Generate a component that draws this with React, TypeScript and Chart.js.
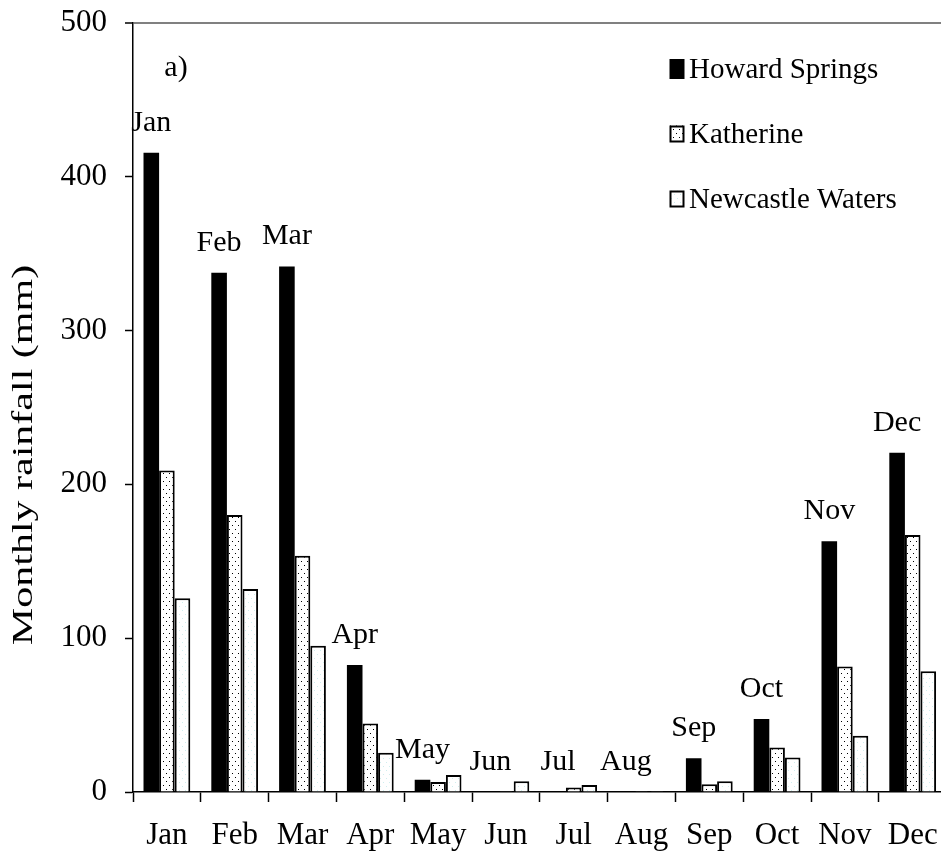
import React, { useEffect, useRef } from "react";
import { Chart, registerables } from "chart.js";

Chart.register(...registerables);

const months = ["Jan", "Feb", "Mar", "Apr", "May", "Jun", "Jul", "Aug", "Sep", "Oct", "Nov", "Dec"];
const howardSprings = [415.5, 337.5, 341.5, 82.5, 8, 0, 0, 0, 22, 47.5, 163, 220.5];
const katherine = [209, 180, 153.5, 44.5, 6.5, 0.5, 3, 0.5, 5, 29, 81.5, 167];
const newcastleWaters = [126, 132, 95, 25.5, 11, 7, 4.5, 0.5, 7, 22.5, 36.5, 78.5];
const seriesNames = ["Howard Springs", "Katherine", "Newcastle Waters"];
const yTicks = [0, 100, 200, 300, 400, 500];
const yTitle = "Monthly rainfall (mm)";
const panelLabel = "a)";

const FONT = "'Liberation Serif', 'Times New Roman', serif";

function makePattern(ctx: CanvasRenderingContext2D, dot: string, w: number, h: number, dots: number[][]) {
  const c = document.createElement("canvas");
  c.width = w;
  c.height = h;
  const p = c.getContext("2d")!;
  p.fillStyle = "#ffffff";
  p.fillRect(0, 0, w, h);
  p.fillStyle = dot;
  dots.forEach(([x, y]) => p.fillRect(x, y, 1, 1));
  return ctx.createPattern(c, "repeat")!;
}

export default function App() {
  const ref = useRef<HTMLCanvasElement | null>(null);

  useEffect(() => {
    const canvas = ref.current!;
    const ctx = canvas.getContext("2d")!;
    const dotted = makePattern(ctx, "#000000", 6, 8, [[1, 1], [4, 5]]);
    const faint = makePattern(ctx, "#cfeeee", 6, 8, [[2, 2], [5, 6]]);

    const decor = {
      id: "decor",
      afterDatasetsDraw(chart: any) {
        const c = chart.ctx;
        const meta = chart.getDatasetMeta(0);
        c.save();
        c.fillStyle = "#000";
        c.font = `30px ${FONT}`;
        c.textAlign = "center";
        c.textBaseline = "middle";
        meta.data.forEach((el: any, i: number) => {
          c.fillText(months[i], el.x, el.y - 30);
        });
        c.restore();
      },
      afterDraw(chart: any) {
        const c = chart.ctx;
        c.save();
        // y-axis title
        c.translate(31.5, 455);
        c.rotate(-Math.PI / 2);
        c.scale(1.4, 1);
        c.font = `30px ${FONT}`;
        c.fillStyle = "#000";
        c.textAlign = "center";
        c.textBaseline = "alphabetic";
        c.fillText(yTitle, 0, 0);
        c.restore();

        c.save();
        c.font = `30px ${FONT}`;
        c.fillStyle = "#000";
        c.textAlign = "center";
        c.textBaseline = "middle";
        c.fillText(panelLabel, 176, 68);

        // legend
        const rows = [70, 135, 200];
        const ds = chart.data.datasets;
        c.font = `29px ${FONT}`;
        c.textAlign = "left";
        rows.forEach((cy, i) => {
          const bx = 669.5;
          const bh = i === 0 ? 20 : 17;
          const by = cy - bh / 2 - 1;
          c.fillStyle = ds[i].backgroundColor;
          c.fillRect(bx, by, 15, bh);
          if (i > 0) {
            c.strokeStyle = "#000";
            c.lineWidth = 2;
            c.strokeRect(bx + 1, by + 1, 13, bh - 2);
          }
          c.fillStyle = "#000";
          c.fillText(ds[i].label, 689, cy);
        });
        c.restore();
      },
    };

    const chart = new Chart(canvas, {
      type: "bar",
      data: {
        labels: months,
        datasets: [
          { label: seriesNames[0], data: howardSprings, backgroundColor: "#000000", borderColor: "#000000", borderWidth: 0 },
          { label: seriesNames[1], data: katherine, backgroundColor: dotted as any, borderColor: "#000000", borderWidth: 2 },
          { label: seriesNames[2], data: newcastleWaters, backgroundColor: faint as any, borderColor: "#000000", borderWidth: 2 },
        ],
      },
      options: {
        responsive: false,
        animation: false,
        devicePixelRatio: 1,
        layout: { padding: { top: 22.7, right: 13.4, bottom: 0, left: 0 } },
        datasets: { bar: { categoryPercentage: 0.69, barPercentage: 1.0, borderSkipped: "start" } },
        plugins: { legend: { display: false }, tooltip: { enabled: false } },
        scales: {
          x: {
            grid: {
              offset: true,
              drawOnChartArea: false,
              drawTicks: true,
              tickLength: 10,
              tickColor: "#000",
              tickWidth: 1.5,
            },
            border: { display: true, color: "#000", width: 1.5 },
            ticks: { color: "#000", font: { family: FONT, size: 31 }, padding: 15 },
            afterFit: (s: any) => {
              s.height = 67;
              s.paddingLeft = 0;
              s.paddingRight = 0;
            },
          },
          y: {
            min: 0,
            max: 500,
            afterBuildTicks: (s: any) => {
              s.ticks = yTicks.map((v) => ({ value: v }));
            },
            grid: {
              color: (c: any) => (c.tick && c.tick.value === 500 ? "#808080" : "rgba(0,0,0,0)"),
              lineWidth: (c: any) => (c.tick && c.tick.value === 500 ? 2 : 1),
              tickLength: 8,
              tickColor: "#000",
              tickWidth: 1.5,
            },
            border: { display: true, color: "#000", width: 1.5 },
            ticks: { color: "#000", font: { family: FONT, size: 31 }, padding: 18 },
            afterFit: (s: any) => {
              s.width = 133;
              s.paddingTop = 0;
              s.paddingBottom = 0;
            },
          },
        },
      },
      plugins: [decor],
    });
    return () => chart.destroy();
  }, []);

  return (
    <div style={{ position: "fixed", left: 0, top: 0, width: 941, height: 859, overflow: "hidden", background: "#fff" }}>
      <canvas ref={ref} width={960} height={859} style={{ display: "block" }} />
    </div>
  );
}
